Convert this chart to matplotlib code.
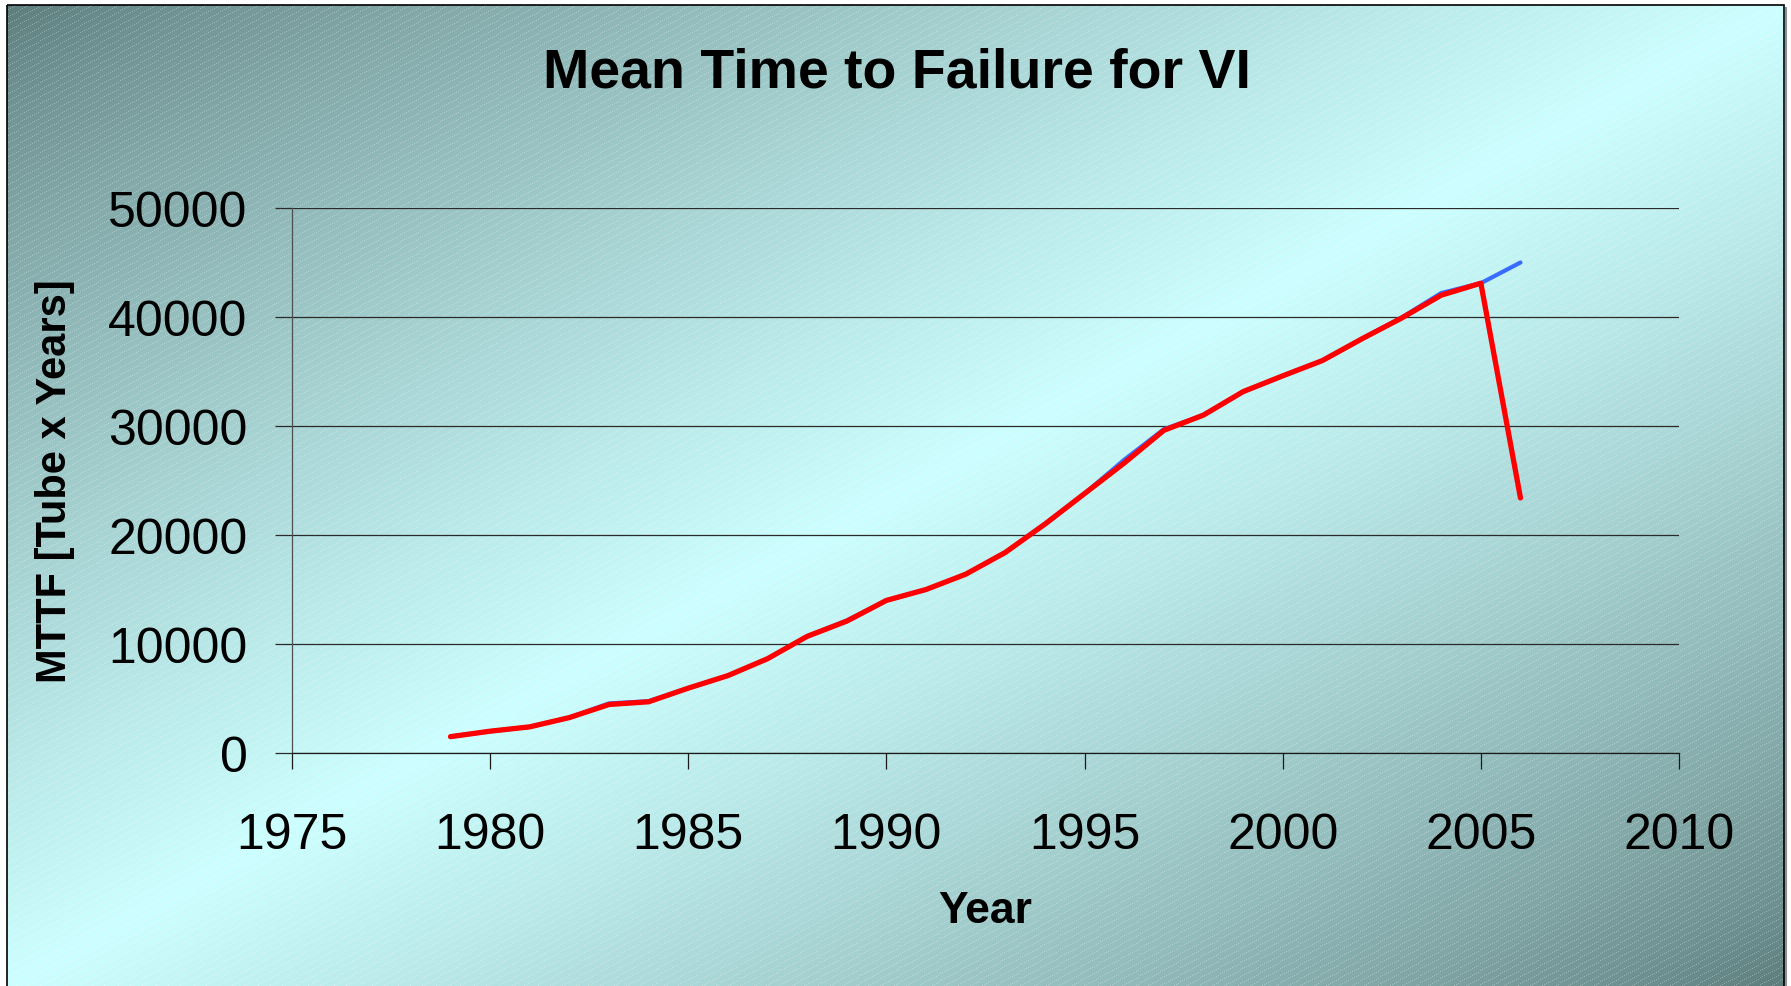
import numpy as np
import matplotlib
matplotlib.use("Agg")
import matplotlib.pyplot as plt
from matplotlib.patches import Rectangle

plt.rcParams['font.family'] = ['Liberation Sans', 'DejaVu Sans']

# data
years = list(range(1979, 2007))
mttf_blue = [1500, 2000, 2400, 3250, 4550, 4750, 5950, 7100, 8650, 10700,
             12150, 14000, 15000, 16400, 18400, 21000, 23800, 26900, 29700, 31000,
             33150, 34600, 36000, 38000, 39950, 42200, 43100, 45000]
mttf_red = [1500, 2000, 2400, 3250, 4450, 4700, 5950, 7100, 8650, 10700,
            12100, 14000, 15000, 16400, 18400, 21000, 23800, 26600, 29600, 31000,
            33150, 34600, 36000, 38000, 39900, 42000, 43100, 23400]
xticks = [1975, 1980, 1985, 1990, 1995, 2000, 2005, 2010]
yticks = [0, 10000, 20000, 30000, 40000, 50000]

W, H = 1791, 987
fig = plt.figure(figsize=(W / 100, H / 100), dpi=100)

# background: diagonal gradient dark -> light cyan -> dark, with thin dotted stripes
bx0, by0, bx1 = 7, 6, 1784
yy, xx = np.mgrid[0:H, 0:W].astype(float)
t = ((xx - bx0) / (bx1 - bx0) + (yy - by0) / (H - by0)) / 2
s = np.clip(1 - np.abs(2 * t - 1), 0, 1) ** 0.75
dark = np.array([0x5c, 0x7b, 0x7b]) / 255
light = np.array([0xcc, 0xff, 0xff]) / 255
img = dark + (light - dark) * s[..., None]
stripe = (((xx * 0.55 + yy) % 7) < 1) & (xx % 2 == 0)
img[stripe] = img[stripe] * 0.7 + 0.3
outside = (xx < bx0) | (xx > bx1) | (yy < by0)
img[outside] = 1.0

bg = fig.add_axes([0, 0, 1, 1], zorder=0)
bg.imshow(img, extent=(0, W, H, 0), aspect='auto', interpolation='nearest')
bg.add_patch(Rectangle((bx0, by0), bx1 - bx0, H + 10, fill=False, ec='black', lw=1.2))
bg.plot([bx1 + 2, bx1 + 2], [by0 + 3, H], color='#909090', lw=1.5)
bg.set_xlim(0, W)
bg.set_ylim(H, 0)
bg.axis('off')

# main chart
left, right, bottom, top = 292, 1679, 754, 209
ax = fig.add_axes([left / W, 1 - bottom / H, (right - left) / W, (bottom - top) / H], zorder=1)
ax.patch.set_alpha(0)

ax.plot(years, mttf_blue, color='#3a6bff', lw=3.0, solid_joinstyle='round', solid_capstyle='round', zorder=3)
ax.plot(years, mttf_red, color='#ff0000', lw=3.8, solid_joinstyle='round', solid_capstyle='round', zorder=4)

ax.set_xlim(1975, 2010)
ax.set_ylim(0, 50000)
ax.set_xticks(xticks)
ax.set_yticks(yticks)
ax.yaxis.grid(True, color='#2a2a2a', lw=0.9)
ax.set_axisbelow(True)
for sp in ['top', 'right']:
    ax.spines[sp].set_visible(False)
ax.spines['left'].set_color('#505050')
ax.spines['bottom'].set_color('#1a1a1a')
ax.spines['left'].set_linewidth(0.9)
ax.spines['bottom'].set_linewidth(0.9)
ax.tick_params(axis='x', direction='out', length=11.5, width=0.9, color='#1a1a1a', pad=31, labelsize=36)
ax.tick_params(axis='y', direction='out', length=12, width=0.9, color='#2a2a2a', pad=20, labelsize=36)

ax.set_xlabel('Year', fontsize=32, fontweight='bold')
ax.xaxis.label.set_va('baseline')
ax.xaxis.set_label_coords(0.5, (bottom - 923) / (bottom - top))
ax.set_ylabel('MTTF [Tube x Years]', fontsize=30, fontweight='bold')
ax.yaxis.label.set_va('center')
ax.yaxis.set_label_coords((55 - left) / (right - left), 0.5)

fig.text(897 / W, 1 - 88 / H, 'Mean Time to Failure for VI', fontsize=40, fontweight='bold',
         ha='center', va='baseline')

fig.savefig('out.png', dpi=100)
